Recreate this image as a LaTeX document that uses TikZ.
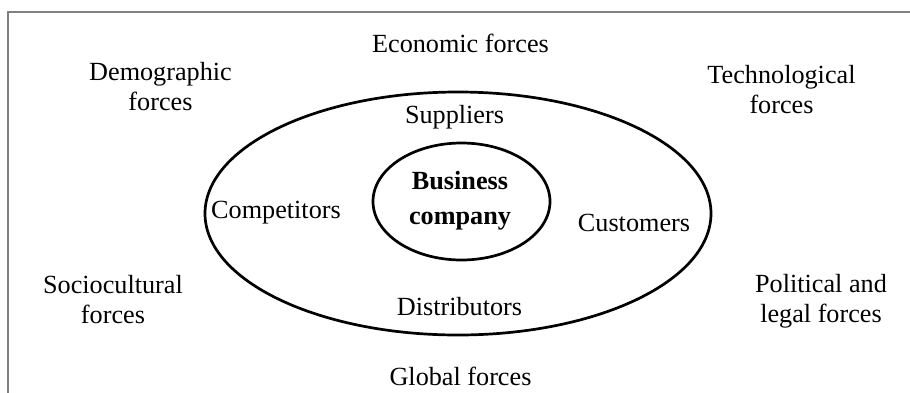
\documentclass[tikz,border=0pt]{standalone}
\usepackage{fontspec}
\setmainfont{Liberation Serif}
\usetikzlibrary{shapes.geometric}
\begin{document}
\begin{tikzpicture}[x=0.5pt,y=-0.5pt,
  lbl/.style={anchor=base,align=center,inner sep=0pt,font=\fontsize{13.1pt}{15pt}\selectfont},
  ring/.style={draw=black,line width=1.35pt,ellipse,inner sep=0pt},
  frame/.style={draw={rgb,255:red,128;green,128;blue,128},line width=1pt}]
\useasboundingbox (0,0) rectangle (910,392);
\draw[frame] (8,400) -- (8,12) -- (920,12);
\node[ring,minimum width=253pt,minimum height=121.5pt] (outer) at (458,213.5) {};
\node[ring,minimum width=88.5pt,minimum height=58.5pt] (inner) at (461.5,201.5) {};
\node[lbl] (econ) at (460.5,52) {Economic forces};
\node[lbl] (demo) at (160.5,110) {Demographic\\forces};
\node[lbl] (tech) at (781.5,113) {Technological\\forces};
\node[lbl] (socio) at (113,323) {Sociocultural\\forces};
\node[lbl] (pol) at (821,322) {Political and\\legal forces};
\node[lbl] (glob) at (460.5,385) {Global forces};
\node[lbl] (sup) at (454.5,123) {Suppliers};
\node[lbl] (comp) at (276,218) {Competitors};
\node[lbl] (cust) at (634,231) {Customers};
\node[lbl] (dist) at (459.5,315) {Distributors};
\node[lbl,font=\fontsize{13.1pt}{17.35pt}\selectfont\bfseries] (biz) at (460,224) {Business\\company};
\end{tikzpicture}
\end{document}
